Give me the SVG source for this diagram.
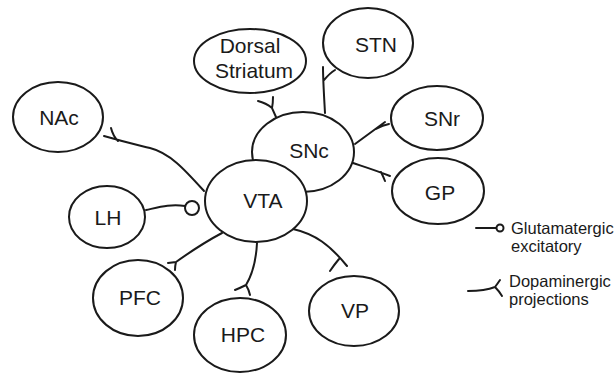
<svg xmlns="http://www.w3.org/2000/svg" width="615" height="374" viewBox="0 0 615 374">
<style>
.node ellipse{fill:#fff;stroke:#1a1a1a;stroke-width:2}
.node text{font-family:"Liberation Sans",Arial,sans-serif;font-size:21px;fill:#1a1a1a;text-anchor:middle}
.conn path{fill:none;stroke:#1a1a1a;stroke-width:2;stroke-linecap:round}
.conn circle{fill:#fff;stroke:#1a1a1a;stroke-width:2}
.legend text{font-family:"Liberation Sans",Arial,sans-serif;font-size:16.5px;fill:#1a1a1a}
.legend path{fill:none;stroke:#1a1a1a;stroke-width:2;stroke-linecap:round}
.legend circle{fill:#fff;stroke:#1a1a1a;stroke-width:2}
</style>
<rect width="615" height="374" fill="#fff"/>
<g id="connectors" class="conn">
<path d="M204,191 C185,170 170,153 150,148 C138,145 128,143 104,136 M118,141 Q113,136 111,128"/>
<path d="M276,117 L272,108 Q266,103 258,101 M272,108 Q273,103 273,97"/>
<path d="M325,113 C324,95 323,80 323,67 M324,80 Q330,73 335,70"/>
<path d="M355,144 L385,122 M376,129 Q383,125 389,124"/>
<path d="M353,163 C365,167 375,170 390,176 M381,172 Q383,176 385,181"/>
<path d="M146,210 C160,207 170,204 185,206"/>
<circle cx="192" cy="208" r="7"/>
<path d="M222,233 C205,242 190,252 176,262 L168,263 M176,262 Q175,266 175,270"/>
<path d="M257,243 C256,262 252,275 246,285 Q240,288 235,290 M246,285 Q249,290 250,295"/>
<path d="M293,229 C315,234 330,245 347,266 M339,259 Q334,265 330,271"/>
</g>
<g id="node-SNc" class="node"><ellipse cx="303" cy="152" rx="51" ry="40"/><text x="309" y="158">SNc</text></g>
<g id="node-VTA" class="node"><ellipse cx="256" cy="201" rx="51" ry="41"/><text x="263" y="208">VTA</text></g>
<g id="node-DS" class="node"><ellipse cx="250" cy="61" rx="56" ry="32"/><text x="250" y="53">Dorsal</text><text x="254" y="78">Striatum</text></g>
<g id="node-NAc" class="node"><ellipse cx="58" cy="117" rx="45" ry="35"/><text x="59" y="125">NAc</text></g>
<g id="node-STN" class="node"><ellipse cx="368" cy="43" rx="45" ry="35"/><text x="376" y="52">STN</text></g>
<g id="node-SNr" class="node"><ellipse cx="437" cy="118" rx="46" ry="32"/><text x="442" y="126">SNr</text></g>
<g id="node-GP" class="node"><ellipse cx="438" cy="191" rx="46" ry="33"/><text x="440" y="200">GP</text></g>
<g id="node-LH" class="node"><ellipse cx="107" cy="217" rx="38" ry="31"/><text x="108" y="225">LH</text></g>
<g id="node-PFC" class="node"><ellipse cx="138" cy="298" rx="45" ry="38"/><text x="140" y="305">PFC</text></g>
<g id="node-HPC" class="node"><ellipse cx="240" cy="335" rx="46" ry="37"/><text x="243" y="342">HPC</text></g>
<g id="node-VP" class="node"><ellipse cx="354" cy="311" rx="45" ry="35"/><text x="355" y="318">VP</text></g>
<g id="legend" class="legend">
<path d="M476,228 L496,228"/>
<circle cx="500" cy="228" r="3.5"/>
<text x="511" y="234">Glutamatergic</text>
<text x="511" y="252">excitatory</text>
<path d="M468,291 Q485,291 495,287 Q498,283 500,280 M495,287 Q499,291 502,296"/>
<text x="509" y="287">Dopaminergic</text>
<text x="509" y="305">projections</text>
</g>
</svg>
